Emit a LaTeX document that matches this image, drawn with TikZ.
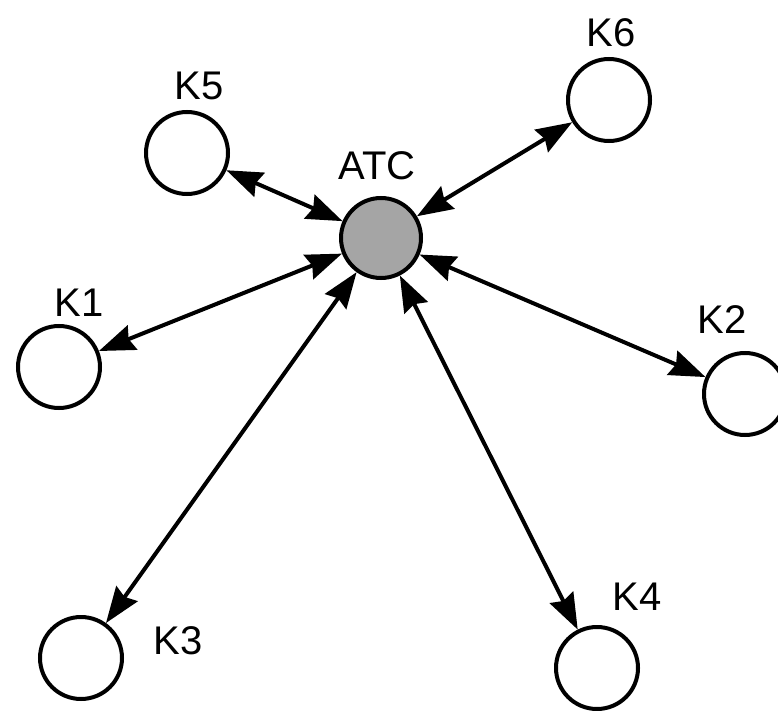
\documentclass[tikz,border=0pt]{standalone}
\usepackage{fontspec}
\setmainfont{Liberation Sans}
\usetikzlibrary{arrows.meta}
\definecolor{atcgray}{RGB}{165,165,165}
\tikzset{
  knode/.style={circle,draw=black,line width=4pt,minimum size=82pt,inner sep=0pt,fill=white},
  atcnode/.style={circle,draw=black,line width=4pt,minimum size=80pt,inner sep=0pt,fill=atcgray},
  lbl/.style={font=\fontsize{40}{40}\selectfont,inner sep=0pt},
  link/.style={line width=4pt,{Stealth[length=36pt,width=26pt,inset=4pt]}-{Stealth[length=36pt,width=26pt,inset=4pt]}}
}
\begin{document}
\begin{tikzpicture}[x=1pt,y=-1pt]
\useasboundingbox (0,0) rectangle (778,711);
\node[atcnode] (atc) at (381,238) {};
\node[knode] (k5) at (187,153) {};
\node[knode] (k6) at (609,100) {};
\node[knode] (k1) at (59,367) {};
\node[knode] (k2) at (745,394) {};
\node[knode] (k3) at (81,658) {};
\node[knode] (k4) at (597,668) {};
\node[lbl] (latc) at (377,166) {ATC};
\node[lbl] (lk5) at (199,86) {K5};
\node[lbl] (lk6) at (611,33) {K6};
\node[lbl] (lk1) at (79,303) {K1};
\node[lbl] (lk2) at (722,320) {K2};
\node[lbl] (lk3) at (178,641) {K3};
\node[lbl] (lk4) at (637,597) {K4};
\draw[link] (k5) -- (atc);
\draw[link] (k6) -- (atc);
\draw[link] (k1) -- (atc);
\draw[link] (k2) -- (atc);
\draw[link] (k3) -- (atc);
\draw[link] (k4) -- (atc);
\end{tikzpicture}
\end{document}
